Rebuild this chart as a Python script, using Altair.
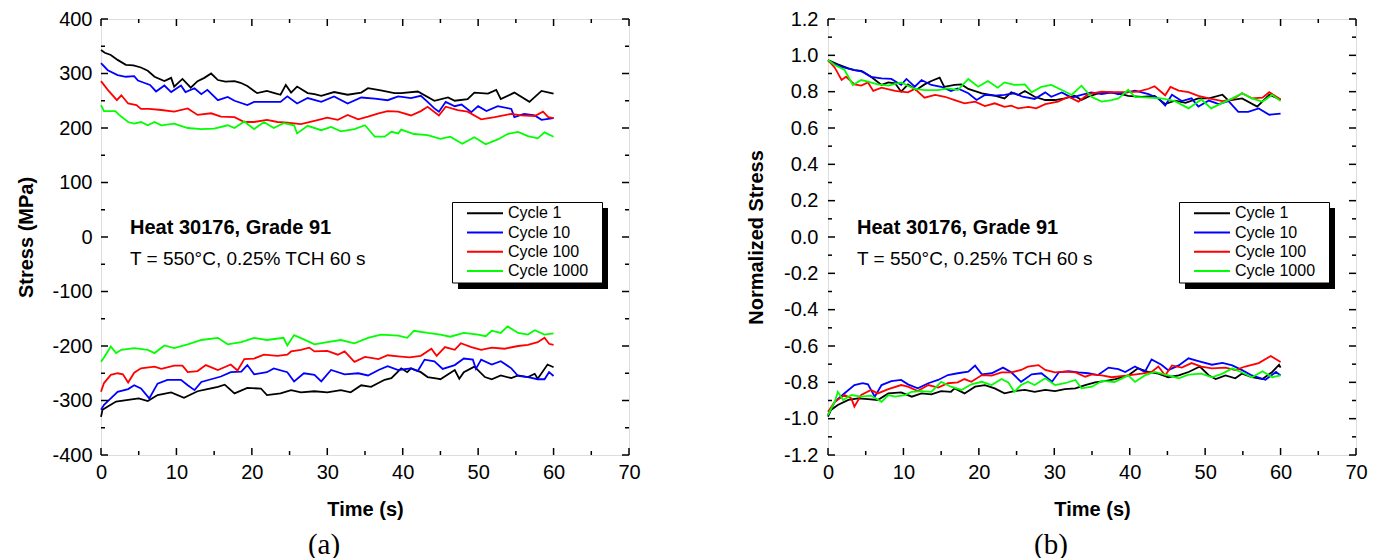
import altair as alt
import pandas as pd

FONT = "Liberation Sans"
SERIF = "Liberation Serif"

CYCLES = ["Cycle 1", "Cycle 10", "Cycle 100", "Cycle 1000"]
COLORS = ["#000000", "#0000ff", "#ff0000", "#00ff00"]

X_MAJOR = [0, 10, 20, 30, 40, 50, 60, 70]
X_MINOR = [5, 15, 25, 35, 45, 55, 65]
A_Y_MAJOR = [-400, -300, -200, -100, 0, 100, 200, 300, 400]
A_Y_MINOR = [-350, -250, -150, -50, 50, 150, 250, 350]
B_Y_MAJOR = [-1.2, -1.0, -0.8, -0.6, -0.4, -0.2, 0.0, 0.2, 0.4, 0.6, 0.8, 1.0, 1.2]
B_Y_MINOR = [-1.1, -0.9, -0.7, -0.5, -0.3, -0.1, 0.1, 0.3, 0.5, 0.7, 0.9, 1.1]

# ---------------- panel (a): stress (MPa) vs time (s) ----------------
A_C1_UP = [(0, 343), (0.5, 338), (1.3, 334), (2.2, 325), (3.3, 316), (4.3, 315), (5.3, 311), (6.2, 305),
           (7.1, 294), (8.4, 286), (9.3, 292), (9.7, 276), (10.8, 290), (11.9, 274), (12.8, 286), (13.7, 292),
           (14.6, 300), (15.5, 288), (16.5, 285), (17.7, 286), (18.5, 283), (19.4, 277), (20.7, 264), (22, 268),
           (23, 264), (23.8, 261), (24.5, 279), (25.2, 265), (26, 276), (27.4, 264), (28.3, 262), (29.2, 259),
           (30.9, 266), (32.7, 261), (34.5, 265), (35.4, 273), (37.1, 269), (38.9, 264), (39.8, 264), (42, 267),
           (44.2, 250), (46, 256), (46.9, 250), (48.6, 253), (49.5, 265), (51.3, 263), (52.4, 270), (53, 253),
           (54.8, 265), (56.8, 248), (58.4, 268), (60, 263)]
A_C10_UP = [(0, 319), (0.9, 306), (2.2, 297), (3.3, 294), (4.4, 295), (4.9, 287), (5.7, 283), (6.5, 279),
            (7.3, 267), (8.4, 278), (9.3, 266), (10.6, 278), (11.2, 266), (12.4, 273), (13.3, 262), (14.1, 270),
            (15.5, 251), (16.8, 257), (17.7, 250), (19.4, 242), (20.3, 248), (22, 248), (23.8, 248), (24.7, 258),
            (26, 245), (27.4, 255), (29.2, 248), (30.9, 258), (32.7, 245), (34.5, 256), (36.3, 254), (38, 251),
            (39.4, 258), (41.1, 255), (42.4, 259), (43.3, 248), (44.2, 236), (44.8, 230), (45.7, 248), (46.9, 240),
            (47.8, 243), (49.1, 229), (50, 240), (51.1, 231), (52.6, 240), (54.4, 235), (54.8, 220), (56.1, 226),
            (57.5, 223), (58.4, 215), (60, 218)]
A_C100_UP = [(0, 286), (0.9, 270), (2.1, 251), (2.7, 260), (3.6, 245), (4.7, 242), (5.3, 235), (6.4, 235),
             (8, 233), (9.7, 230), (11.5, 236), (12.8, 224), (14.6, 227), (15.9, 221), (17.7, 220), (19, 211),
             (20.3, 211), (22, 215), (23.4, 211), (24.7, 210), (26.5, 207), (28.3, 213), (30, 219), (31.4, 215),
             (32.7, 224), (34.1, 216), (35.4, 221), (36.8, 227), (38, 231), (39.4, 230), (41.1, 223), (42.4, 231),
             (43.3, 239), (44.8, 223), (45.7, 239), (47.3, 233), (48.6, 230), (50.4, 216), (52.2, 220), (54.4, 226),
             (55.7, 223), (57.5, 222), (58.6, 230), (59.3, 220), (60, 218)]
A_C1000_UP = [(0, 242), (0.4, 231), (1.9, 231), (2.4, 224), (3.6, 211), (4.4, 208), (5.3, 211), (6.2, 205),
              (7.1, 211), (8, 205), (9.7, 208), (11.5, 200), (13.3, 198), (15, 199), (16.8, 205), (17.7, 200),
              (19, 212), (20.3, 198), (21.6, 211), (22.9, 200), (24.2, 209), (25.6, 205), (26, 190), (27.4, 204),
              (29.2, 196), (30.5, 202), (31.8, 194), (33.6, 198), (35, 205), (36.3, 184), (37.6, 184), (38.5, 193),
              (39.4, 190), (39.8, 197), (41.5, 189), (43.3, 187), (45, 180), (46.3, 184), (47.9, 171), (49.5, 183),
              (51, 170), (52.6, 179), (53.9, 189), (55.3, 193), (56.6, 185), (57.9, 181), (58.8, 192), (60, 184)]
A_C1_LO = [(0, -330), (0.2, -317), (0.9, -311), (2, -302), (3.6, -299), (5, -296), (6.2, -301), (7.5, -290),
           (9.3, -285), (11, -295), (12.8, -283), (14.1, -279), (15.5, -275), (16.4, -271), (17.7, -287),
           (19.4, -277), (21.2, -278), (22, -290), (23.8, -287), (25.2, -281), (26.5, -285), (28.3, -283),
           (30, -285), (31.8, -281), (33.1, -285), (34.5, -272), (35.8, -275), (37.6, -262), (38.5, -259),
           (39.8, -241), (40.6, -248), (41.1, -241), (42.4, -248), (43.3, -257), (44.6, -260), (45, -261),
           (46.9, -244), (47.5, -260), (48.1, -248), (49.5, -238), (50.9, -257), (51.8, -261), (53, -254),
           (54.4, -259), (55.3, -254), (56.6, -257), (57.5, -251), (57.9, -260), (59.2, -234), (60, -239)]
A_C10_LO = [(0, -317), (0.4, -308), (1.3, -296), (2.2, -284), (3.6, -279), (4.4, -272), (5.3, -278), (6.4, -296),
            (7.5, -269), (8.8, -262), (10.6, -262), (11.5, -272), (12.4, -281), (13.3, -266), (14.6, -261),
            (15.9, -256), (17.2, -248), (18.6, -247), (19.4, -235), (20.3, -252), (22, -248), (22.9, -241),
            (24.7, -248), (25.6, -265), (26.9, -250), (28.3, -253), (29.2, -265), (30.5, -244), (32.3, -252),
            (34.1, -250), (35.4, -254), (36.8, -244), (38, -237), (39.4, -244), (41.1, -241), (42, -246),
            (42.9, -225), (44.2, -228), (45.3, -242), (46.9, -235), (48.1, -223), (49.3, -225), (49.7, -242),
            (50.4, -225), (51.8, -234), (53, -228), (54.4, -241), (55.3, -255), (56.6, -257), (57.9, -261),
            (58.8, -261), (59.4, -248), (60, -255)]
A_C100_LO = [(0, -284), (0.4, -268), (1.3, -253), (2.2, -250), (2.9, -252), (3.6, -267), (4.4, -249), (5.3, -241),
             (7.1, -238), (8, -242), (9.7, -236), (10.8, -236), (11.5, -248), (12.8, -246), (13.9, -235),
             (15.5, -244), (17.2, -234), (18.1, -245), (19, -224), (20.3, -223), (21.6, -216), (23.4, -218),
             (24.7, -216), (25.2, -210), (26.5, -207), (27.6, -203), (28.3, -210), (30, -209), (31.4, -216),
             (32.3, -210), (33.6, -229), (35, -220), (36.8, -224), (38, -217), (39.4, -219), (40.9, -221),
             (42.4, -218), (43.8, -205), (44.5, -218), (45.6, -202), (46.9, -207), (47.7, -195), (49.1, -202),
             (50.4, -207), (51.8, -203), (53.5, -205), (55.3, -200), (56.6, -198), (57.9, -193), (58.8, -185),
             (59.4, -196), (60, -198)]
A_C1000_LO = [(0, -229), (0.4, -221), (1.3, -201), (2, -213), (2.7, -207), (4.4, -204), (6.2, -207), (7.1, -213),
              (8.4, -199), (9.7, -204), (11.5, -197), (13.3, -189), (15.5, -185), (16.8, -197), (18.6, -193),
              (20.3, -185), (22, -189), (24.2, -185), (24.7, -199), (25.6, -180), (27.4, -191), (28.3, -197),
              (30, -193), (31.8, -189), (33.6, -195), (35.4, -185), (37.1, -179), (39.4, -181), (40.6, -185),
              (41.5, -172), (43.3, -176), (45, -179), (46.3, -183), (48.1, -176), (50, -179), (51, -182),
              (51.8, -172), (53, -176), (53.9, -164), (55.3, -176), (56.6, -179), (57.5, -171), (58.8, -179),
              (60, -177)]

# ---------------- panel (b): normalized stress vs time (s) ----------------
B_C1_UP = [(0, 0.974), (1.3, 0.951), (2.7, 0.928), (3.5, 0.919), (4.4, 0.914), (5.7, 0.882), (7.1, 0.837),
           (8, 0.851), (8.9, 0.846), (9.7, 0.80), (10.6, 0.84), (11.7, 0.809), (12.8, 0.84), (13.7, 0.859),
           (14.8, 0.877), (15.4, 0.827), (16.8, 0.837), (17.7, 0.84), (18.6, 0.815), (20.4, 0.791), (22.1, 0.778),
           (23.4, 0.763), (24.3, 0.796), (25.2, 0.782), (26.1, 0.804), (27.4, 0.772), (28.8, 0.754), (30.1, 0.754),
           (31.4, 0.763), (32.7, 0.778), (33.6, 0.754), (34.5, 0.772), (35.8, 0.791), (37.2, 0.796), (38.5, 0.791),
           (39.8, 0.777), (41.6, 0.771), (43.3, 0.777), (44.7, 0.732), (46, 0.751), (47.4, 0.738), (49.1, 0.763),
           (50.5, 0.763), (52.3, 0.783), (53.1, 0.751), (54.9, 0.763), (56.9, 0.718), (58.5, 0.783), (60, 0.757)]
B_C10_UP = [(0, 0.969), (1.8, 0.937), (3.5, 0.919), (4.6, 0.91), (5.7, 0.882), (7.1, 0.873), (8.4, 0.87),
            (9.7, 0.837), (10.4, 0.87), (11.5, 0.827), (12.4, 0.864), (13.7, 0.837), (15, 0.827), (16.3, 0.804),
            (17.2, 0.818), (18.6, 0.791), (19.7, 0.754), (20.8, 0.782), (22.1, 0.778), (23.4, 0.782), (24.7, 0.791),
            (25.8, 0.772), (27.4, 0.76), (28.8, 0.796), (29.6, 0.772), (31, 0.796), (32.3, 0.767), (33.6, 0.782),
            (34.9, 0.796), (36.3, 0.786), (37.6, 0.796), (38.5, 0.786), (40.7, 0.806), (42.5, 0.787), (43.8, 0.763),
            (44.7, 0.724), (45.6, 0.783), (46.9, 0.748), (48.2, 0.763), (49.1, 0.718), (50.5, 0.751), (51.8, 0.732),
            (53.1, 0.748), (54.4, 0.689), (55.7, 0.689), (57.1, 0.708), (58.5, 0.673), (60, 0.679)]
B_C100_UP = [(0, 0.974), (0.9, 0.932), (1.8, 0.864), (2.4, 0.882), (3.5, 0.84), (4.4, 0.833), (5.3, 0.851),
             (6, 0.804), (7.1, 0.822), (8.9, 0.804), (10.6, 0.796), (11.5, 0.815), (12.8, 0.767), (14.2, 0.782),
             (15.5, 0.772), (16.8, 0.754), (18.1, 0.736), (19.5, 0.745), (20.8, 0.721), (22.1, 0.736), (23.4, 0.716),
             (24.3, 0.723), (25.2, 0.708), (26.6, 0.716), (27.6, 0.708), (28.8, 0.731), (30.5, 0.745), (31.9, 0.772),
             (33.2, 0.745), (34.5, 0.786), (36.3, 0.80), (37.6, 0.797), (39.8, 0.797), (41.1, 0.80), (42.5, 0.816),
             (43.3, 0.83), (44.7, 0.78), (45.4, 0.826), (46.5, 0.806), (47.8, 0.797), (49.1, 0.777), (50.5, 0.763),
             (52.3, 0.748), (53.6, 0.757), (54.9, 0.791), (56.2, 0.763), (57.6, 0.767), (58.5, 0.797), (60, 0.757)]
B_C1000_UP = [(0, 0.974), (0.9, 0.947), (2.2, 0.919), (3.3, 0.837), (4.4, 0.864), (5.3, 0.855), (6.6, 0.84),
              (8, 0.833), (9.7, 0.851), (11.5, 0.815), (12.8, 0.809), (14.6, 0.809), (15.9, 0.818), (17.2, 0.809),
              (18.6, 0.87), (19.9, 0.827), (21.2, 0.859), (22.5, 0.822), (23.4, 0.851), (24.7, 0.837), (26.1, 0.84),
              (27, 0.796), (28.3, 0.827), (29.6, 0.837), (31, 0.809), (32.3, 0.782), (33.6, 0.833), (34.9, 0.772),
              (36.3, 0.745), (37.6, 0.754), (38.5, 0.763), (39.8, 0.81), (40.7, 0.771), (42.5, 0.767), (44.2, 0.763),
              (46, 0.748), (47.8, 0.708), (49.5, 0.757), (50.8, 0.708), (52.3, 0.738), (53.6, 0.763), (54.9, 0.791),
              (56.2, 0.763), (57.6, 0.745), (58.9, 0.783), (60, 0.748)]
B_C1_LO = [(0, -0.989), (0.4, -0.952), (1.3, -0.925), (2.7, -0.897), (4, -0.888), (5.3, -0.892), (6.6, -0.897),
           (8, -0.861), (9.7, -0.855), (11.1, -0.879), (12.4, -0.861), (13.7, -0.866), (15, -0.848), (16.3, -0.852),
           (16.8, -0.833), (18.1, -0.861), (19.5, -0.824), (20.8, -0.815), (22.1, -0.833), (23.4, -0.861),
           (24.7, -0.848), (26.1, -0.842), (27.4, -0.852), (28.8, -0.842), (30.1, -0.848), (31.4, -0.837),
           (32.8, -0.833), (34.1, -0.815), (35.4, -0.80), (36.7, -0.793), (38.1, -0.782), (38.8, -0.774),
           (39.8, -0.762), (41.1, -0.723), (42.5, -0.743), (43.8, -0.752), (45.1, -0.772), (46.5, -0.762),
           (47.8, -0.743), (49.3, -0.713), (50.5, -0.762), (51.4, -0.782), (52.7, -0.762), (54, -0.778),
           (54.9, -0.752), (56.2, -0.772), (57.6, -0.782), (58.9, -0.743), (59.8, -0.703), (60, -0.719)]
B_C10_LO = [(0, -0.98), (0.9, -0.907), (2.2, -0.86), (3.5, -0.815), (4.6, -0.805), (5.3, -0.811), (6.2, -0.879),
            (7.1, -0.815), (8.4, -0.793), (9.7, -0.787), (10.6, -0.811), (11.9, -0.833), (13.3, -0.805),
            (14.6, -0.787), (15.9, -0.76), (17.2, -0.75), (18.6, -0.741), (19.5, -0.708), (20.4, -0.756),
            (21.7, -0.75), (23.2, -0.719), (24.3, -0.745), (25.6, -0.797), (27, -0.756), (28.3, -0.75),
            (29.7, -0.797), (30.6, -0.745), (31.9, -0.738), (33.2, -0.745), (34.5, -0.75), (35.8, -0.76),
            (37.2, -0.719), (38.5, -0.727), (39.4, -0.743), (40.7, -0.713), (42, -0.743), (42.9, -0.674),
            (44.2, -0.703), (45.1, -0.733), (46.5, -0.707), (47.8, -0.668), (49.1, -0.683), (50.9, -0.703),
            (52.3, -0.693), (53.6, -0.707), (54.9, -0.733), (56.2, -0.762), (58, -0.786), (59.4, -0.743),
            (60, -0.762)]
B_C100_LO = [(0, -0.962), (0.9, -0.907), (2.2, -0.87), (3.1, -0.888), (3.5, -0.934), (4.4, -0.87), (5.7, -0.842),
             (6.6, -0.861), (8, -0.837), (9.7, -0.815), (10.6, -0.824), (11.9, -0.848), (13.3, -0.815),
             (14.6, -0.829), (15.9, -0.805), (17.2, -0.80), (18.1, -0.782), (19, -0.797), (20.4, -0.76),
             (21.7, -0.763), (23, -0.745), (24.3, -0.745), (25.6, -0.732), (26.5, -0.714), (27.9, -0.705),
             (28.8, -0.732), (30.1, -0.745), (31.4, -0.741), (32.8, -0.745), (34.1, -0.769), (35, -0.756),
             (36.3, -0.762), (37.6, -0.772), (39.8, -0.762), (41.6, -0.752), (42.9, -0.743), (43.8, -0.713),
             (44.7, -0.762), (45.6, -0.707), (46.9, -0.719), (48.2, -0.694), (49.5, -0.713), (50.9, -0.723),
             (52.7, -0.719), (54, -0.733), (55.3, -0.713), (57.1, -0.694), (58.7, -0.655), (60, -0.688)]
B_C1000_LO = [(0, -0.98), (0.9, -0.907), (1.3, -0.852), (2, -0.897), (3.1, -0.87), (4.4, -0.879), (5.7, -0.873),
              (7.1, -0.907), (8, -0.87), (8.9, -0.879), (10.2, -0.87), (11.1, -0.852), (12.4, -0.848),
              (13.7, -0.852), (15, -0.797), (16.3, -0.824), (17.7, -0.842), (19, -0.811), (20.4, -0.797),
              (21.7, -0.815), (23, -0.782), (23.9, -0.80), (24.7, -0.852), (25.6, -0.815), (26.5, -0.797),
              (27.4, -0.815), (28.8, -0.778), (30.1, -0.815), (31.4, -0.805), (32.8, -0.787), (33.6, -0.833),
              (35, -0.824), (36.3, -0.792), (38, -0.798), (39.8, -0.762), (40.7, -0.798), (42, -0.762),
              (43.3, -0.743), (45.1, -0.762), (46.5, -0.778), (47.8, -0.758), (49.5, -0.752), (50.9, -0.772),
              (52.3, -0.752), (53.6, -0.723), (54.9, -0.746), (56.2, -0.772), (57.6, -0.739), (58.9, -0.772),
              (60, -0.762)]

ANNOT1 = "Heat 30176, Grade 91"
ANNOT2 = "T = 550\u00b0C, 0.25% TCH 60 s"

W, H = 528, 436
ONE = pd.DataFrame({"k": [0]})
MINUS_FIX = "replace(datum.label, '\u2212', '-')"


def curves_df(curves):
    rows = []
    for cyc, br, pts in curves:
        for i, (t, v) in enumerate(pts):
            rows.append({"t": t, "v": v, "cycle": cyc, "branch": br, "order": i})
    return pd.DataFrame(rows)


def text_layer(txt, x, y, size, weight="normal", font=FONT, align="left"):
    return alt.Chart(ONE).mark_text(
        text=txt, align=align, baseline="middle", fontSize=size, fontWeight=weight, font=font, color="black"
    ).encode(x=alt.value(x), y=alt.value(y))


def panel(df, ydom, ymaj, ymin, yfmt, ytitle, tag, ytitlepad, ylabelpad):
    xs = alt.Scale(domain=[0, 70], nice=False, zero=False)
    ys = alt.Scale(domain=ydom, nice=False, zero=False)
    xaxis = alt.Axis(values=X_MAJOR, title="Time (s)", labelFlush=False, ticks=False, tickSize=0, domain=False,
                     grid=False, labelPadding=7, titlePadding=17, labelFontSize=20, titleFontSize=20,
                     titleFontWeight="bold", labelOverlap=False)
    yaxis = alt.Axis(values=ymaj, format=yfmt, title=ytitle, ticks=False, tickSize=0, domain=False, grid=False,
                     labelPadding=ylabelpad, titlePadding=ytitlepad, labelFontSize=20, titleFontSize=20,
                     titleFontWeight="bold", labelExpr=MINUS_FIX, labelOverlap=False)
    X = alt.X("t:Q", scale=xs, axis=xaxis)
    Y = alt.Y("v:Q", scale=ys, axis=yaxis)

    lines = alt.Chart(df).mark_line(strokeWidth=1.8).encode(
        x=X, y=Y,
        color=alt.Color("cycle:N", scale=alt.Scale(domain=CYCLES, range=COLORS), legend=None),
        detail="branch:N", order="order:Q",
    )
    layers = [lines]
    xmaj = pd.DataFrame({"t": X_MAJOR})
    xmin = pd.DataFrame({"t": X_MINOR})
    ymj = pd.DataFrame({"v": ymaj})
    ymn = pd.DataFrame({"v": ymin})
    for d, ln in ((xmaj, 7), (xmin, 4)):
        layers.append(alt.Chart(d).mark_rule(color="black", strokeWidth=1.5).encode(
            x=X, y=alt.value(H), y2=alt.value(H - ln)))
        layers.append(alt.Chart(d).mark_rule(color="black", strokeWidth=1.5).encode(
            x=X, y=alt.value(0), y2=alt.value(ln)))
    for d, ln in ((ymj, 7), (ymn, 4)):
        layers.append(alt.Chart(d).mark_rule(color="black", strokeWidth=1.5).encode(
            y=Y, x=alt.value(0), x2=alt.value(ln)))
        layers.append(alt.Chart(d).mark_rule(color="black", strokeWidth=1.5).encode(
            y=Y, x=alt.value(W), x2=alt.value(W - ln)))

    layers.append(text_layer(ANNOT1, 29, 209, 20, weight="bold"))
    layers.append(text_layer(ANNOT2, 29, 240, 19))

    # legend box with drop shadow
    layers.append(alt.Chart(ONE).mark_rect(color="black").encode(
        x=alt.value(357), x2=alt.value(507), y=alt.value(189), y2=alt.value(270)))
    layers.append(alt.Chart(ONE).mark_rect(fill="white", stroke="black", strokeWidth=1).encode(
        x=alt.value(351.5), x2=alt.value(501.5), y=alt.value(183.5), y2=alt.value(264)))
    for i, (name, col) in enumerate(zip(CYCLES, COLORS)):
        ry = 194.3 + i * 19.2
        layers.append(alt.Chart(ONE).mark_rule(color=col, strokeWidth=2).encode(
            x=alt.value(366), x2=alt.value(402), y=alt.value(ry)))
        layers.append(text_layer(name, 407, ry, 16))

    layers.append(text_layer(tag, 223, 526, 29, font=SERIF, align="center"))
    return alt.layer(*layers).properties(width=W, height=H)


df_a = curves_df([
    ("Cycle 1", "up", A_C1_UP), ("Cycle 10", "up", A_C10_UP), ("Cycle 100", "up", A_C100_UP),
    ("Cycle 1000", "up", A_C1000_UP), ("Cycle 1", "lo", A_C1_LO), ("Cycle 10", "lo", A_C10_LO),
    ("Cycle 100", "lo", A_C100_LO), ("Cycle 1000", "lo", A_C1000_LO),
])
df_b = curves_df([
    ("Cycle 1", "up", B_C1_UP), ("Cycle 10", "up", B_C10_UP), ("Cycle 100", "up", B_C100_UP),
    ("Cycle 1000", "up", B_C1000_UP), ("Cycle 1", "lo", B_C1_LO), ("Cycle 10", "lo", B_C10_LO),
    ("Cycle 100", "lo", B_C100_LO), ("Cycle 1000", "lo", B_C1000_LO),
])

pa = panel(df_a, [-400, 400], A_Y_MAJOR, A_Y_MINOR, "d", "Stress (MPa)", "(a)", 15, 9)
pb = panel(df_b, [-1.2, 1.2], B_Y_MAJOR, B_Y_MINOR, ".1f", "Normalized Stress", "(b)", 17, 10)

chart = alt.hconcat(pa, pb, spacing=105).properties(
    padding={"left": 8, "top": 0, "right": 0, "bottom": 0}
).configure_view(stroke="black", strokeWidth=2).configure_axis(
    labelFont=FONT, titleFont=FONT, labelColor="black", titleColor="black"
).configure(background="white")

chart.save("out.html", embed_options={"renderer": "svg", "actions": False})
